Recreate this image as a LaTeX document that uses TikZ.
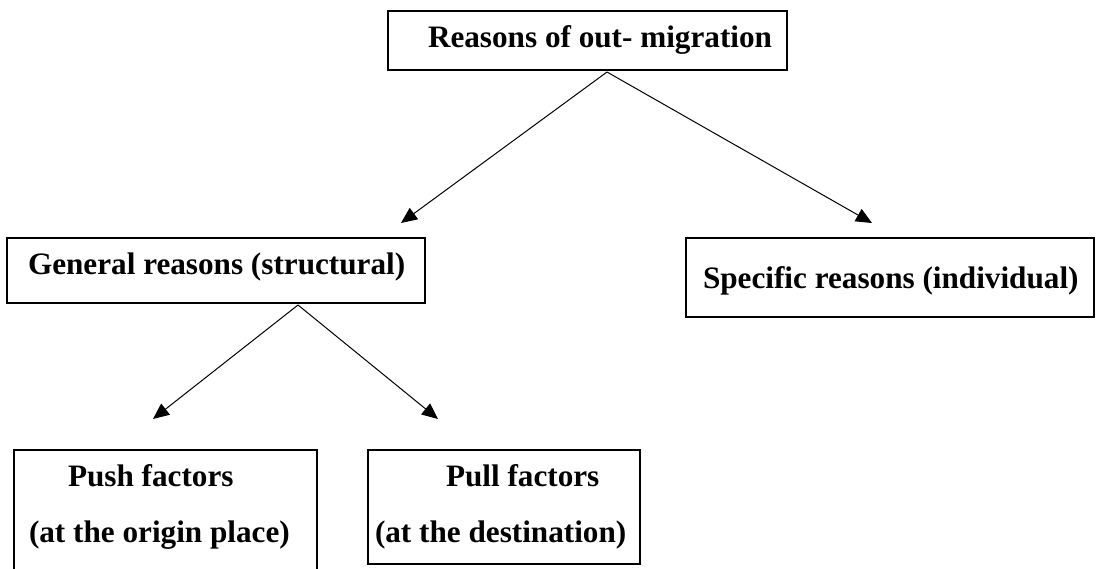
\documentclass[tikz,border=0pt]{standalone}
\usepackage{fontspec}
\setmainfont{Liberation Serif}
\usetikzlibrary{arrows.meta}
\begin{document}
\begin{tikzpicture}[x=1pt,y=-1pt,
  boxline/.style={draw=black, line width=2.2pt},
  lbl/.style={font=\bfseries\fontsize{31.2}{37}\selectfont, anchor=base west, inner sep=0pt, outer sep=0pt},
  arr/.style={-{Triangle[length=16pt,width=14pt]}, line width=1pt}]
\useasboundingbox (0,0) rectangle (1098,568);
% boxes
\draw[boxline] (388,11) rectangle (787,70);
\draw[boxline] (7,238) rectangle (425,303);
\draw[boxline] (686,238) rectangle (1094,317);
\draw[boxline] (14,580) -- (14,450) -- (317,450) -- (317,580);
\draw[boxline] (368,450) rectangle (640,564);
% texts
\node[lbl] (top) at (428,47) {Reasons of out- migration};
\node[lbl] (gen) at (28,274) {General reasons (structural)};
\node[lbl] (spe) at (703,288) {Specific reasons (individual)};
\node[lbl] (push1) at (68,486) {Push factors};
\node[lbl] (push2) at (29,542) {(at the origin place)};
\node[lbl] (pull1) at (446,486) {Pull factors};
\node[lbl] (pull2) at (375,542) {(at the destination)};
% connector end points
\coordinate (topapex) at (607,72);
\coordinate (genapex) at (298,305);
\coordinate (genin) at (401,223);
\coordinate (spein) at (872,223);
\coordinate (pushin) at (153,419);
\coordinate (pullin) at (438,419);
\draw[arr] (topapex) -- (genin);
\draw[arr] (topapex) -- (spein);
\draw[arr] (genapex) -- (pushin);
\draw[arr] (genapex) -- (pullin);
\end{tikzpicture}
\end{document}
